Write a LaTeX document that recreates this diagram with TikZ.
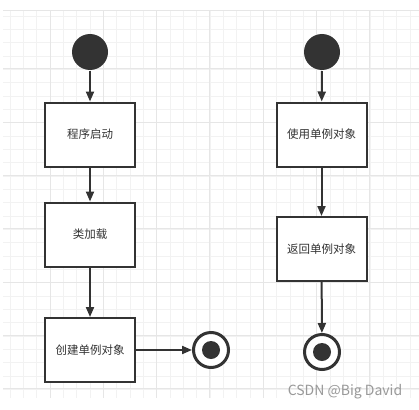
\documentclass[tikz,border=0pt]{standalone}
\usepackage{fontspec}
\setmainfont{Noto Sans CJK SC}
\usetikzlibrary{positioning}
\usetikzlibrary{arrows.meta}
\definecolor{ink}{HTML}{333333}
\definecolor{gridminor}{HTML}{F2F2F2}
\definecolor{gridmajor}{HTML}{E6E6E6}

\begin{document}
\begin{tikzpicture}[ x = 1pt, y = -1pt
                     , font = \fontsize{11.5pt}{13pt}\selectfont
                     , >={Triangle[width=8pt, length=10pt]}
                     , line width = 2pt
                     , draw = ink
                     ]

  \useasboundingbox (0,0) rectangle (419,409);
  \fill[white] (0,0) rectangle (419,409);

  %%
  %% Grid
  %%
  \begin{scope}
    \clip (3,11) rectangle (419,398);
    \foreach \k in {0,...,31} {
      \draw[gridminor, line width=0.8pt] (10+13.33*\k,11) -- (10+13.33*\k,398);
      \draw[gridminor, line width=0.8pt] (3,16+13.33*\k) -- (419,16+13.33*\k);
    }
    \foreach \k in {0,...,7} {
      \draw[gridmajor, line width=1pt] (50+53.33*\k,11) -- (50+53.33*\k,398);
      \draw[gridmajor, line width=1pt] (3,69+53.33*\k) -- (419,69+53.33*\k);
    }
    \draw[gridmajor, line width=1pt] (3,11) -- (419,11);
  \end{scope}

  %%
  %% Nodes
  %%
  \tikzset{ start/.style={circle, fill=ink, draw=none, minimum size=36pt, inner sep=0pt}
          , stop/.style={circle, draw=ink, line width=3pt, fill=white, minimum size=35pt, inner sep=0pt}
          , dot/.style={circle, fill=ink, minimum size=18pt, inner sep=0pt}
          , action/.style={rectangle, draw=ink, fill=white, line width=2pt, text=ink,
                           minimum width=90pt, minimum height=64pt, inner sep=0pt}
          }

  \node (startl) [start] at (90,52) {};
  \node (boot) [action] at (90,134.5) {程序启动};
  \node (load) [action] at (90,234.5) {类加载};
  \node (create) [action] at (90,350) {创建单例对象};
  \node (stopl) [stop] at (211,350) {};
  \node [dot] at (stopl) {};

  \node (startr) [start] at (322,52) {};
  \node (use) [action] at (321.5,134.5) {使用单例对象};
  \node (ret) [action] at (321.5,249) {返回单例对象};
  \node (stopr) [stop] at (322,352) {};
  \node [dot] at (stopr) {};

  \node (mark) [text=black!40, font=\fontsize{14pt}{16pt}\selectfont] at (345,392) {CSDN @Big David};

  %%
  %% Arrows
  %%
  % Left column.
  \draw[->, ink] (startl) -- (boot);
  \draw[->, ink] (boot) -- (load);
  \draw[->, ink] (load) -- (create);
  \draw[->, ink] (create) -- (stopl);
  % Right column.
  \draw[->, ink] (startr) -- (use);
  \draw[->, ink] (use) -- (ret);
  \draw[->, ink] (ret) -- (stopr);
\end{tikzpicture}
\end{document}
